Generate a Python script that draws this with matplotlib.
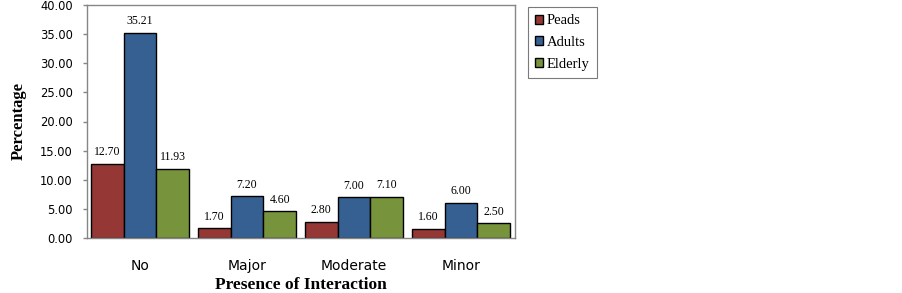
import matplotlib
matplotlib.use("Agg")
import matplotlib.pyplot as plt
import numpy as np

categories = ["No", "Major", "Moderate", "Minor"]
series_names = ["Peads", "Adults", "Elderly"]
peads = [12.70, 1.70, 2.80, 1.60]
adults = [35.21, 7.20, 7.00, 6.00]
elderly = [11.93, 4.60, 7.10, 2.50]
yticks = [0, 5, 10, 15, 20, 25, 30, 35, 40]

colors = ["#953735", "#376092", "#77933C"]

fig = plt.figure(figsize=(9.02, 2.93), dpi=100)
ax = fig.add_axes([86.5/902, 1-238/293, 428/902, 233/293])

x = np.arange(len(categories))
w = 0.305
data = [peads, adults, elderly]
for i, (vals, name, c) in enumerate(zip(data, series_names, colors)):
    bars = ax.bar(x + (i-1)*w, vals, w, color=c, edgecolor="black", linewidth=1.0, label=name)
    for b, v in zip(bars, vals):
        ax.annotate(f"{v:.2f}", (b.get_x()+b.get_width()/2, v), xytext=(0, 4),
                    textcoords="offset points", ha="center", va="bottom",
                    fontsize=8.5, family="Liberation Serif")

ax.set_xlim(-0.5, len(categories)-0.5)
ax.set_ylim(0, 40)
ax.set_yticks(yticks)
ax.set_yticklabels([f"{t:.2f}" for t in yticks], fontsize=8.3, family="DejaVu Sans")
ax.set_xticks(x)
ax.set_xticklabels(categories, fontsize=10, family="DejaVu Sans")
ax.tick_params(axis="y", length=3, width=1.0, color="#868686", pad=7)
ax.tick_params(axis="x", length=0, pad=15)
for s in ax.spines.values():
    s.set_color("#868686")
    s.set_linewidth(1.0)

ax.set_ylabel("Percentage", fontsize=12, fontweight="bold", family="Liberation Serif", labelpad=9)
ax.set_xlabel("Presence of Interaction", fontsize=12.5, fontweight="bold", family="Liberation Serif", labelpad=3)

leg = fig.legend(loc="upper left", bbox_to_anchor=(528/902, 1-7/293), frameon=True,
                 prop={"family": "Liberation Serif", "size": 10.5}, handlelength=0.55, handleheight=0.55,
                 handletextpad=0.25, borderpad=0.5, labelspacing=0.6, fancybox=False, borderaxespad=0)
leg.get_frame().set_edgecolor("#595959")
leg.get_frame().set_linewidth(0.8)

fig.savefig("out.png", dpi=100)
